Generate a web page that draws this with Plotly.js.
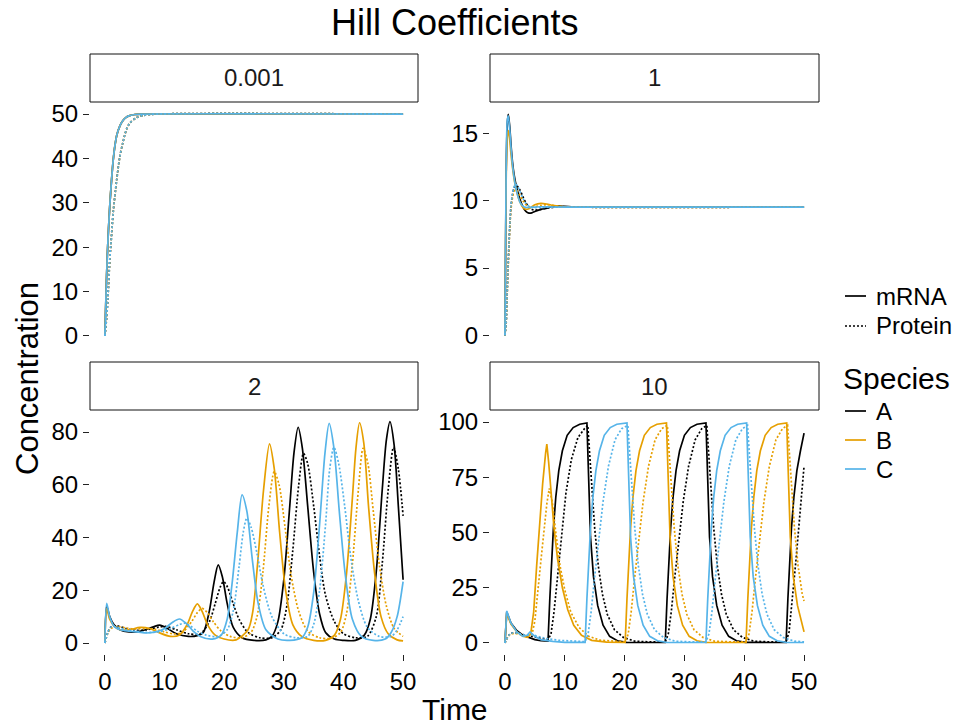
<!DOCTYPE html>
<html><head><meta charset="utf-8">
<script src="https://cdn.plot.ly/plotly-3.0.1.min.js"></script>
<style>html,body{margin:0;padding:0;background:#fff}</style>
</head><body><div id="chart" style="width:956px;height:727px"></div>
<script>
// ---------- categories ----------
const panelLabels = ["0.001", "1", "2", "10"];
const speciesNames = ["A", "B", "C"];
const moleculeNames = ["mRNA", "Protein"];
const speciesColors = ["#000000", "#E69F00", "#56B4E9"];

// ---------- tick labels ----------
const xTicks = [0, 10, 20, 30, 40, 50];
const yTicks001 = [0, 10, 20, 30, 40, 50];
const yTicks1 = [0, 5, 10, 15];
const yTicks2 = [0, 20, 40, 60, 80];
const yTicks10 = [0, 25, 50, 75, 100];

// ---------- data: [time, concentration] ----------
// Hill = 0.001 (all species identical)
const h001_mRNA = [[0,0],[0.2,10],[0.4,18],[0.6,24],[0.8,29],[1,33],[1.25,37.5],[1.5,41],[1.75,43.5],[2,45.3],[2.5,47.3],[3,48.5],[3.5,49.2],[4,49.6],[5,49.9],[6,50],[50,50]];
const h001_Protein = [[0,0],[0.28,4],[0.5,8.5],[0.84,17.7],[1,20.5],[1.4,28],[1.96,35],[2.5,40.4],[3,43.5],[3.6,46.5],[4.2,48],[5.3,49.2],[6.5,49.7],[8.6,50],[50,50]];

// Hill = 1
const h1_A_mRNA = [[0,0],[0.2,12],[0.4,15.8],[0.56,16.4],[0.8,15.5],[1,14.2],[1.25,12.9],[1.5,12],[1.75,11.4],[2,10.9],[2.5,10.1],[3,9.55],[3.5,9.2],[4,9.08],[4.5,9.1],[5,9.2],[6,9.35],[7,9.45],[8,9.55],[9,9.6],[10,9.58],[12,9.53],[15,9.52],[50,9.52]];
const h1_B_mRNA = [[0,0],[0.2,11.5],[0.4,14.8],[0.56,15.2],[0.8,14.5],[1,13.5],[1.25,12.5],[1.5,11.7],[1.75,11.1],[2,10.6],[2.5,9.9],[3,9.5],[3.5,9.35],[4,9.4],[4.5,9.55],[5,9.7],[6,9.8],[7,9.75],[8,9.65],[9,9.58],[10,9.55],[12,9.52],[50,9.52]];
const h1_C_mRNA = [[0,0],[0.2,12.5],[0.4,16],[0.56,16.3],[0.8,15.3],[1,14],[1.25,12.7],[1.5,11.8],[1.75,11.1],[2,10.6],[2.5,9.9],[3,9.6],[3.5,9.5],[4,9.5],[5,9.52],[6,9.55],[8,9.53],[10,9.52],[50,9.52]];
const h1_A_Protein = [[0,0],[0.2,0.9],[0.4,3.5],[0.56,5.5],[0.8,8],[1,9.5],[1.25,10.4],[1.5,10.9],[1.75,11.1],[2,11.1],[2.5,10.8],[3,10.3],[3.5,9.85],[4,9.5],[4.5,9.35],[5,9.3],[6,9.35],[7,9.45],[8,9.5],[9,9.55],[10,9.55],[12,9.52],[50,9.52]];
const h1_B_Protein = [[0,0],[0.2,0.9],[0.4,3.4],[0.56,5.3],[0.8,7.8],[1,9.3],[1.25,10.2],[1.5,10.7],[1.75,10.8],[2,10.75],[2.5,10.4],[3,10],[3.5,9.7],[4,9.55],[4.5,9.5],[5,9.55],[6,9.65],[7,9.7],[8,9.65],[9,9.58],[10,9.55],[12,9.52],[50,9.52]];
const h1_C_Protein = [[0,0],[0.2,0.95],[0.4,3.6],[0.56,5.6],[0.8,8.1],[1,9.6],[1.25,10.5],[1.5,11],[1.75,11.2],[2,11.15],[2.5,10.7],[3,10.2],[3.5,9.8],[4,9.6],[4.5,9.5],[5,9.48],[6,9.5],[8,9.52],[50,9.52]];

// Hill = 2
const h2_A_mRNA = [[0,0],[0.3,14],[0.8,10],[1.5,7],[2.5,5],[4,4.2],[6,4.5],[8,6],[9.2,6.8],[10.5,5.5],[12,3.5],[14,2.5],[15.5,2.8],[16.5,4],[17.5,12],[18.3,23],[19,29.6],[19.7,25],[20.5,15],[21.5,6],[23,2],[25,1],[27,1.2],[28,2.5],[29,8],[30,24],[31,52],[31.7,72],[32.4,81.8],[33.1,74],[34,52],[35,27],[36,11],[37,4],[38.5,1.5],[40,1],[42,1],[43.5,3],[44.5,9],[45.5,27],[46.5,58],[47.2,77],[47.8,83.9],[48.5,75],[49.2,52],[50,24]];
const h2_B_mRNA = [[0,0],[0.3,13],[0.8,9],[1.5,6.5],[2.5,5],[4,5],[5.9,5.9],[7.5,5.5],[9,4],[11,2.5],[12.5,3],[13.8,7],[14.7,12],[15.5,14.8],[16.3,12],[17.2,7],[18.5,3],[20,1.5],[22,1.2],[24,5],[24.8,12],[25.6,30],[26.6,58],[27.6,75.5],[28.4,66],[29.3,42],[30.3,20],[31.5,7],[33,2.5],[35,1],[37,1],[38.5,3],[39.5,9],[40.5,26],[41.5,55],[42.1,74],[42.7,83.5],[43.4,76],[44.2,52],[45.2,27],[46.3,10],[47.5,3.5],[49,1.2],[50,0.8]];
const h2_C_mRNA = [[0,0],[0.3,15],[0.8,10],[1.5,6.5],[2.5,5],[4,4.5],[5.5,4.2],[7,3.8],[8.5,4.2],[10,5.5],[11.3,7.8],[12.5,9.1],[13.6,7.5],[14.8,4.5],[16,2.5],[18,1.5],[19.5,3],[20.5,9],[21.3,22],[22.2,42],[23,56.2],[23.8,50],[24.7,32],[25.7,15],[27,5],[29,1.5],[31,1],[33,2],[34,6],[35,19],[36,45],[36.9,72],[37.6,83.3],[38.4,74],[39.3,50],[40.3,26],[41.5,9],[43,2.5],[45,1],[47,1.5],[48,4],[49,10],[50,23.3]];
const h2_A_Protein = [[0,0],[0.5,4],[1,6],[2,6.5],[3.5,5.5],[5,4.8],[7,5],[9,6],[10.2,6.3],[12,5],[14,3.5],[16,3.5],[17.5,8],[18.5,15],[19.3,21],[19.9,23.3],[20.6,21],[21.5,15],[22.5,9],[24,4],[26,2],[28,2],[29.5,5],[30.5,14],[31.5,35],[32.5,60],[33.3,71.9],[34,68],[35,52],[36,33],[37,18],[38.5,8],[40,3.5],[42,2],[44,2.5],[45.5,10],[46.5,30],[47.5,58],[48.4,74.2],[49.2,66],[50,48.2]];
const h2_B_Protein = [[0,0],[0.5,3.8],[1,5.5],[2,6.2],[3.5,5.7],[5,5.3],[6.8,5.5],[8.5,5.2],[10,4.2],[11.5,3.5],[13,4],[14.5,8],[15.5,11.5],[16.3,13.1],[17.2,11.5],[18.2,8],[19.5,4.5],[21,2.5],[23,2],[24.5,4],[25.5,10],[26.5,27],[27.5,52],[28.4,65],[29.2,60],[30.2,44],[31.2,26],[32.5,12],[34,4.5],[36,2],[38,1.8],[39.5,4],[40.5,11],[41.5,30],[42.5,58],[43.3,73.8],[44.1,68],[45,50],[46,30],[47.2,14],[48.5,5.5],[50,2.5]];
const h2_C_Protein = [[0,0],[0.5,4],[1,6],[2,6],[3.5,5],[5,4.5],[7,4],[9,4.2],[11,5.5],[12.5,7],[13.3,7.5],[14.3,6.5],[15.5,4.5],[17,3],[19,2.5],[20.5,5],[21.5,12],[22.5,29],[23.2,42],[23.8,47.3],[24.5,44],[25.5,34],[26.5,22],[28,10],[30,3.5],[32,2],[34,2.5],[35,7],[36,20],[37,45],[37.7,66],[38.4,74.2],[39.2,68],[40.2,52],[41.2,33],[42.5,16],[44,6],[46,2.5],[48,2.5],[49,5],[50,10]];

// Hill = 10
const h10_A_mRNA = [[0,0],[0.3,14],[1,9],[2,5.5],[3,3.5],[4,2.5],[5,1.5],[6,1],[7.2,0.8],[7.5,20],[7.8,38],[8.1,52],[8.5,66],[9,78],[9.6,87],[10.4,94],[11.4,97.5],[12.5,99],[13.7,99.6],[14,70],[14.3,48],[14.8,30],[15.5,17],[16.4,8],[17.5,3],[18.8,1],[20.3,0.3],[24,0.2],[26.8,0.3],[27.1,20],[27.4,38],[27.7,52],[28.1,66],[28.6,78],[29.2,87],[30,94],[31,97.5],[32.1,99],[33.6,99.6],[33.9,70],[34.2,48],[34.7,30],[35.4,17],[36.3,8],[37.4,3],[38.7,1],[40.2,0.3],[44,0.2],[47,0.3],[47.3,20],[47.6,38],[47.9,52],[48.3,66],[48.8,78],[49.4,87],[50,95]];
const h10_B_mRNA = [[0,0],[0.3,13.5],[1,8.5],[2,5],[3,3],[3.8,2.5],[4.3,4],[4.8,14],[5.3,35],[5.8,55],[6.3,72],[6.8,86],[7,90],[7.3,82],[7.7,68],[8.2,52],[8.8,38],[9.6,25],[10.5,15],[11.5,8],[12.8,3.5],[14.5,1.2],[17,0.4],[20.1,0.3],[20.4,20],[20.7,38],[21,52],[21.4,66],[21.9,78],[22.5,87],[23.3,94],[24.3,97.5],[25.4,99],[27,99.6],[27.3,70],[27.6,48],[28.1,30],[28.8,17],[29.7,8],[30.8,3],[32.1,1],[33.6,0.3],[37,0.2],[40.3,0.3],[40.6,20],[40.9,38],[41.2,52],[41.6,66],[42.1,78],[42.7,87],[43.5,94],[44.5,97.5],[45.6,99],[47.1,99.6],[47.4,70],[47.7,48],[48.2,30],[48.9,17],[50,5]];
const h10_C_mRNA = [[0,0],[0.3,14.5],[1,9],[2,5],[3,3],[3.7,3.5],[4.2,5],[5,3],[6,1.5],[8,0.7],[10,0.3],[13.4,0.3],[13.7,20],[14,38],[14.3,52],[14.7,66],[15.2,78],[15.8,87],[16.6,94],[17.6,97.5],[18.7,99],[20.4,99.6],[20.7,70],[21,48],[21.5,30],[22.2,17],[23.1,8],[24.2,3],[25.5,1],[27,0.3],[30,0.2],[33.6,0.3],[33.9,20],[34.2,38],[34.5,52],[34.9,66],[35.4,78],[36,87],[36.8,94],[37.8,97.5],[38.9,99],[40.4,99.6],[40.7,70],[41,48],[41.5,30],[42.2,17],[43.1,8],[44.2,3],[45.5,1],[47,0.3],[50,0.2]];
const h10_A_Protein = [[0,0],[0.5,3],[1,4.5],[2,4.5],[3.5,3.5],[5,2.5],[6.5,1.8],[7.2,1.5],[7.7,4],[8.2,14],[8.8,30],[9.4,48],[10.2,68],[11.1,83],[12.2,93],[13.3,97],[13.85,98.5],[14.1,88],[14.5,70],[15,52],[15.6,35],[16.3,22],[17.1,13],[18.3,6],[19.8,2.5],[21.7,0.8],[24,0.5],[26.8,0.5],[27.3,4],[27.8,14],[28.4,30],[29,46],[29.8,64],[30.7,80],[31.8,92],[32.9,97],[33.75,98.5],[34,88],[34.4,70],[34.9,52],[35.5,35],[36.2,22],[37,13],[38.2,6],[39.7,2.5],[41.6,0.8],[44,0.5],[47,0.5],[47.5,5],[48,18],[48.6,36],[49.3,58],[50,80]];
const h10_B_Protein = [[0,0],[0.5,3],[1,4.2],[2,4.2],[3.5,3.2],[4.5,3.5],[5,10],[5.5,22],[6,37],[6.5,50],[7,63],[7.4,70],[7.9,64],[8.5,50],[9.2,35],[10,24],[11,14],[12.4,7],[14,3],[16,1.2],[18,0.7],[20.1,0.5],[20.6,4],[21.1,14],[21.7,30],[22.3,46],[23.1,64],[24,80],[25.1,92],[26.2,97],[27.15,98.5],[27.4,88],[27.8,70],[28.3,52],[28.9,35],[29.6,22],[30.4,13],[31.6,6],[33.1,2.5],[35,0.8],[38,0.5],[40.3,0.5],[40.8,4],[41.3,14],[41.9,30],[42.5,46],[43.3,64],[44.2,80],[45.3,92],[46.4,97],[47.25,98.5],[47.5,88],[47.9,70],[48.4,52],[49,35],[49.7,22],[50,19]];
const h10_C_Protein = [[0,0],[0.5,3],[1,4.5],[2,4.5],[3.5,3.5],[4.5,3.8],[5.5,3],[7,2],[9,1.2],[11,0.8],[13.4,0.6],[13.9,4],[14.4,14],[15,30],[15.6,46],[16.4,64],[17.3,80],[18.4,92],[19.5,97],[20.55,98.5],[20.8,88],[21.2,70],[21.7,52],[22.3,35],[23,22],[23.8,13],[25,6],[26.5,2.5],[28.4,0.8],[31,0.5],[33.6,0.5],[34.1,4],[34.6,14],[35.2,30],[35.8,46],[36.6,64],[37.5,80],[38.6,92],[39.7,97],[40.55,98.5],[40.8,88],[41.2,70],[41.7,52],[42.3,35],[43,22],[43.8,13],[45,6],[46.5,2.5],[48.4,0.8],[50,0.5]];

// series per panel: [species][molecule]
const panelSeries = [
  [[h001_mRNA, h001_Protein], [h001_mRNA, h001_Protein], [h001_mRNA, h001_Protein]],
  [[h1_A_mRNA, h1_A_Protein], [h1_B_mRNA, h1_B_Protein], [h1_C_mRNA, h1_C_Protein]],
  [[h2_A_mRNA, h2_A_Protein], [h2_B_mRNA, h2_B_Protein], [h2_C_mRNA, h2_C_Protein]],
  [[h10_A_mRNA, h10_A_Protein], [h10_B_mRNA, h10_B_Protein], [h10_C_mRNA, h10_C_Protein]]
];
const panelShapes = ["spline", "spline", "spline", "linear"];

// ---------- layout geometry (pixels of a 956x727 page) ----------
const W = 956, H = 727;
const FONT = "Liberation Sans, Arial, Helvetica, sans-serif";
const colX = [[90, 418], [490, 819]];
const rowY = [[103, 347], [411, 654]];
const stripY = [[54, 102], [362, 410]];
const yRanges = [[-2.5, 52.5], [-0.86, 17.25], [-4.17, 87.96], [-5, 105]];
const yTickSets = [yTicks001, yTicks1, yTicks2, yTicks10];

const px = v => v / W;
const py = v => 1 - v / H;

const traces = [];
const layout = {
  width: W, height: H,
  margin: {l: 0, r: 0, t: 0, b: 0},
  paper_bgcolor: "#ffffff", plot_bgcolor: "#ffffff",
  showlegend: false,
  font: {family: FONT, size: 24, color: "#000000"},
  shapes: [], annotations: []
};

panelLabels.forEach((lab, p) => {
  const col = p % 2, row = Math.floor(p / 2);
  const xa = p === 0 ? "xaxis" : "xaxis" + (p + 1);
  const ya = p === 0 ? "yaxis" : "yaxis" + (p + 1);
  const xr = p === 0 ? "x" : "x" + (p + 1);
  const yr = p === 0 ? "y" : "y" + (p + 1);
  layout[xa] = {
    domain: [px(colX[col][0]), px(colX[col][1])],
    anchor: yr, range: [-2.5, 52.5],
    showgrid: false, zeroline: false, showline: false,
    ticks: row === 1 ? "outside" : "", ticklen: 6, tickwidth: 1, tickcolor: "#222222",
    showticklabels: row === 1, tickvals: xTicks,
    tickfont: {family: FONT, size: 24, color: "#000000"}
  };
  layout[ya] = {
    domain: [py(rowY[row][1]), py(rowY[row][0])],
    anchor: xr, range: yRanges[p],
    showgrid: false, zeroline: false, showline: false,
    ticks: "outside", ticklen: 6, tickwidth: 1, tickcolor: "#222222",
    tickvals: yTickSets[p],
    tickfont: {family: FONT, size: 24, color: "#000000"}
  };
  // strip
  layout.shapes.push({type: "rect", xref: "paper", yref: "paper",
    x0: px(colX[col][0]), x1: px(colX[col][1]),
    y0: py(stripY[row][1]), y1: py(stripY[row][0]),
    line: {color: "#111111", width: 1}, fillcolor: "#ffffff"});
  layout.annotations.push({xref: "paper", yref: "paper",
    x: px((colX[col][0] + colX[col][1]) / 2), y: py((stripY[row][0] + stripY[row][1]) / 2),
    text: lab, showarrow: false, xanchor: "center", yanchor: "middle",
    font: {family: FONT, size: 24, color: "#1a1a1a"}});
  // lines
  speciesNames.forEach((sp, s) => {
    moleculeNames.forEach((mol, m) => {
      const pts = panelSeries[p][s][m];
      traces.push({
        type: "scatter", mode: "lines", xaxis: xr, yaxis: yr,
        name: sp + " " + mol,
        x: pts.map(d => d[0]), y: pts.map(d => d[1]),
        line: {color: speciesColors[s], width: 1.7, dash: m === 0 ? "solid" : "2px,2px",
               shape: panelShapes[p], smoothing: 0.8},
        hoverinfo: "skip"
      });
    });
  });
});

// titles
layout.annotations.push({xref: "paper", yref: "paper", x: px(454), y: py(22),
  text: "Hill Coefficients", showarrow: false, xanchor: "center", yanchor: "middle",
  font: {family: FONT, size: 36, color: "#000000"}});
layout.annotations.push({xref: "paper", yref: "paper", x: px(455), y: py(709),
  text: "Time", showarrow: false, xanchor: "center", yanchor: "middle",
  font: {family: FONT, size: 30, color: "#000000"}});
layout.annotations.push({xref: "paper", yref: "paper", x: px(27), y: py(379),
  text: "Concentration", showarrow: false, textangle: -90, xanchor: "center", yanchor: "middle",
  font: {family: FONT, size: 31, color: "#000000"}});

// legends (drawn by hand, ggplot style)
const legKeyX = [845, 866], legTextX = 874;
const molLegY = [296, 326];
moleculeNames.forEach((mol, m) => {
  layout.shapes.push({type: "line", xref: "paper", yref: "paper",
    x0: px(legKeyX[0]), x1: px(legKeyX[1]), y0: py(molLegY[m]), y1: py(molLegY[m]),
    line: {color: "#000000", width: 1.7, dash: m === 0 ? "solid" : "2px,2px"}});
  layout.annotations.push({xref: "paper", yref: "paper", x: px(legTextX), y: py(molLegY[m]),
    text: mol, showarrow: false, xanchor: "left", yanchor: "middle",
    font: {family: FONT, size: 24, color: "#000000"}});
});
layout.annotations.push({xref: "paper", yref: "paper", x: px(841), y: py(378),
  text: "Species", showarrow: false, xanchor: "left", yanchor: "middle",
  font: {family: FONT, size: 30, color: "#000000"}});
const spLegY = [411, 440, 469];
speciesNames.forEach((sp, s) => {
  layout.shapes.push({type: "line", xref: "paper", yref: "paper",
    x0: px(legKeyX[0]), x1: px(legKeyX[1]), y0: py(spLegY[s]), y1: py(spLegY[s]),
    line: {color: speciesColors[s], width: 1.7}});
  layout.annotations.push({xref: "paper", yref: "paper", x: px(legTextX), y: py(spLegY[s]),
    text: sp, showarrow: false, xanchor: "left", yanchor: "middle",
    font: {family: FONT, size: 24, color: "#000000"}});
});

Plotly.newPlot("chart", traces, layout, {displayModeBar: false, staticPlot: true});
</script>
</body></html>
